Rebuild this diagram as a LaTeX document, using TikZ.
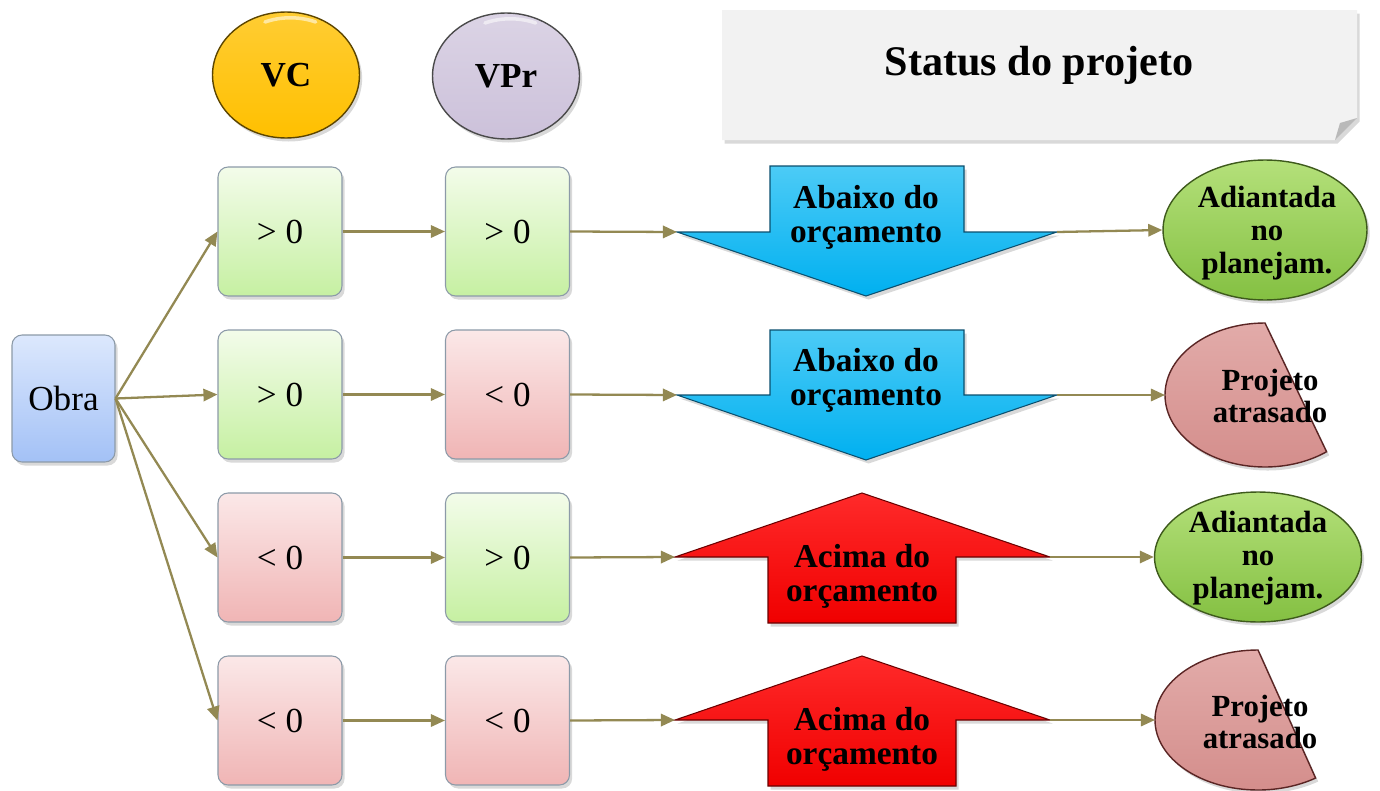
\documentclass[tikz,border=0pt]{standalone}
\usepackage{fontspec}
\setmainfont{Liberation Serif}
\usetikzlibrary{shapes.geometric,shadows,arrows.meta}
\definecolor{olivec}{HTML}{938953}
\definecolor{gtop}{HTML}{F3FCEA}
\definecolor{gbot}{HTML}{C6F0A2}
\definecolor{rtop}{HTML}{FBE8E8}
\definecolor{rbot}{HTML}{F0B5B5}
\definecolor{btop}{HTML}{DCE8FD}
\definecolor{bbot}{HTML}{A3C1F6}
\definecolor{boxline}{HTML}{8C9AA8}
\definecolor{vcfill}{HTML}{FFC000}
\definecolor{vcline}{HTML}{5C4500}
\definecolor{vprfill}{HTML}{CCC1DA}
\definecolor{vprline}{HTML}{4A4A4A}
\definecolor{statfill}{HTML}{F2F2F2}
\definecolor{bluearr}{HTML}{00B0F0}
\definecolor{bluearrtop}{HTML}{4CCBF6}
\definecolor{bluearrline}{HTML}{0A4F6E}
\definecolor{redarr}{HTML}{F00000}
\definecolor{redarrtop}{HTML}{FF2A2A}
\definecolor{redarrline}{HTML}{6A0000}
\definecolor{grtop}{HTML}{B4E07A}
\definecolor{grbot}{HTML}{84C042}
\definecolor{grline}{HTML}{3E5A1C}
\definecolor{pktop}{HTML}{E2ABA9}
\definecolor{pkbot}{HTML}{D48E8C}
\definecolor{pkline}{HTML}{5A2524}
\begin{document}
\begin{tikzpicture}[x=0.02cm,y=-0.02cm,
  shad/.style={drop shadow={opacity=0.3,shadow xshift=1.5pt,shadow yshift=-2pt}},
  valbox/.style={rounded corners=0.2cm, draw=boxline, line width=0.6pt,
    minimum width=2.48cm, minimum height=2.58cm,
    font=\fontsize{20}{22}\selectfont, shad},
  posbox/.style={valbox, top color=gtop, bottom color=gbot},
  negbox/.style={valbox, top color=rtop, bottom color=rbot},
  topell/.style={ellipse, line width=0.8pt, minimum width=2.94cm, minimum height=2.52cm,
    font=\bfseries\fontsize{20}{22}\selectfont, shad},
  gloss/.style={white, opacity=0.55, line width=2pt, line cap=round},
  conn/.style={draw=olivec, line width=1.3pt, -{Triangle[length=8pt,width=7pt]}},
  arrtext/.style={align=center, font=\bfseries\fontsize{19}{19.5}\selectfont},
  endtext/.style={align=center, font=\bfseries\fontsize{17.5}{18.7}\selectfont},
  greenell/.style={ellipse, draw=grline, line width=0.8pt, top color=grtop, bottom color=grbot, shad},
  pinkpie/.style={draw=pkline, line width=0.8pt, top color=pktop, bottom color=pkbot, shad},
  bluearrow/.style={draw=bluearrline, line width=0.6pt, top color=bluearrtop, bottom color=bluearr, shad},
  redarrow/.style={draw=redarrline, line width=0.6pt, top color=redarrtop, bottom color=redarr, shad}]
\useasboundingbox (0,0) rectangle (1380,791);

% header
\node[topell, draw=vcline, top color=vcfill!80!white, bottom color=vcfill] (vc) at (286,75) {VC};
\node[topell, draw=vprline, top color=vprfill!70!white, bottom color=vprfill] (vpr) at (506,76) {VPr};
\draw[gloss] (265,22) arc[start angle=-115, end angle=-65, x radius=60, y radius=45];
\draw[gloss] (485,23) arc[start angle=-115, end angle=-65, x radius=60, y radius=45];
\path[fill=statfill, shad] (722,10) -- (1357,10) -- (1357,118) -- (1335,140) -- (722,140) -- cycle;
\fill[gray!55] (1357,118) -- (1335,140) -- (1340,123) -- cycle;
\node[font=\bfseries\fontsize{24}{26}\selectfont] (status) at (1039,65) {Status do projeto};

% left
\node[valbox, minimum width=2.06cm, minimum height=2.54cm, top color=btop, bottom color=bbot] (obra) at (63.5,398.5) {Obra};

\node[posbox] (c11) at (280,231.5) {> 0};
\node[posbox] (c12) at (280,394.5) {> 0};
\node[negbox] (c13) at (280,557.5) {< 0};
\node[negbox] (c14) at (280,720.5) {< 0};

\node[posbox] (c21) at (507.5,231.5) {> 0};
\node[negbox] (c22) at (507.5,394.5) {< 0};
\node[posbox] (c23) at (507.5,557.5) {> 0};
\node[negbox] (c24) at (507.5,720.5) {< 0};

% budget arrows
\path[bluearrow] (770,166) -- (964,166) -- (964,232) -- (1057,232) -- (866,296) -- (677,232) -- (770,232) -- cycle;
\path[bluearrow] (770,330) -- (964,330) -- (964,395) -- (1057,395) -- (866,460) -- (677,395) -- (770,395) -- cycle;
\path[redarrow] (768,623) -- (956,623) -- (956,557) -- (1050,557) -- (862,493) -- (675,557) -- (768,557) -- cycle;
\path[redarrow] (768,786) -- (956,786) -- (956,720) -- (1050,720) -- (862,656) -- (675,720) -- (768,720) -- cycle;
\coordinate (a1w) at (677,232); \coordinate (a1e) at (1057,232);
\coordinate (a2w) at (677,395); \coordinate (a2e) at (1057,395);
\coordinate (a3w) at (675,557); \coordinate (a3e) at (1050,557);
\coordinate (a4w) at (675,720); \coordinate (a4e) at (1050,720);
\node[arrtext] (t1) at (866,217) {Abaixo do\\orçamento};
\node[arrtext] (t2) at (866,380) {Abaixo do\\orçamento};
\node[arrtext] (t3) at (862,576) {Acima do\\orçamento};
\node[arrtext] (t4) at (862,739) {Acima do\\orçamento};

% end shapes
\node[greenell, minimum width=4.08cm, minimum height=2.8cm] (e1) at (1265,230) {};
\node[greenell, minimum width=4.14cm, minimum height=2.6cm] (e3) at (1258,557) {};
\path[pinkpie] (1265,323) arc[start angle=-90, end angle=-308, x radius=100, y radius=72] -- cycle;
\path[pinkpie] (1258,650) arc[start angle=-90, end angle=-304, x radius=103, y radius=70] -- cycle;
\coordinate (p2w) at (1165,395);
\coordinate (p4w) at (1155,720);
\node[endtext] (s1) at (1267,233) {Adiantada\\no\\planejam.};
\node[endtext] (s2) at (1270,396) {Projeto\\atrasado};
\node[endtext] (s3) at (1258,558) {Adiantada\\no\\planejam.};
\node[endtext] (s4) at (1260,722) {Projeto\\atrasado};

% connectors
\draw[conn] (obra.east) -- (c11.west);
\draw[conn] (obra.east) -- (c12.west);
\draw[conn] (obra.east) -- (c13.west);
\draw[conn] (obra.east) -- (c14.west);
\foreach \r in {1,2,3,4} {
  \draw[conn] (c1\r.east) -- (c2\r.west);
  \draw[conn] (c2\r.east) -- (a\r w);
}
\draw[conn] (a1e) -- (e1.west);
\draw[conn] (a2e) -- (p2w);
\draw[conn] (a3e) -- (e3.west);
\draw[conn] (a4e) -- (p4w);
\end{tikzpicture}
\end{document}
